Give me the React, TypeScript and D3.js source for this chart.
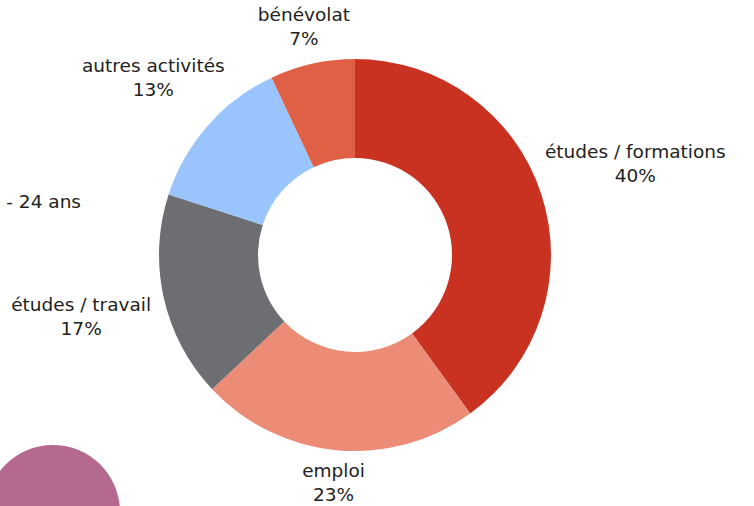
import React from "react";
import * as d3 from "d3";

const categories = ["études / formations", "emploi", "études / travail", "autres activités", "bénévolat"];
const values = [40, 23, 17, 13, 7];
const colors = ["#C93221", "#EC8C77", "#6D6E71", "#99C4FE", "#DF6045"];
const sideTitle = "17 - 24 ans";

const W = 754;
const H = 506;
const FONT = "'DejaVu Sans', sans-serif";
const FS = 18.5;

function measure(text: string): number {
  const c = document.createElement("canvas").getContext("2d");
  if (!c) return text.length * 10;
  c.font = `${FS}px DejaVu Sans`;
  return c.measureText(text).width;
}

export default function App() {
  const cx = 355;
  const cy = 255;
  const R = 196;
  const r = 97;
  const pie = d3.pie<number>().sort(null).value((d) => d);
  const arcs = pie(values);
  const arc = d3.arc<d3.PieArcDatum<number>>().innerRadius(r).outerRadius(R);

  return (
    <svg width={W} height={H} style={{ position: "absolute", left: 0, top: 0 }}>
      <rect width={W} height={H} fill="#fff" />
      <circle cx={53} cy={512} r={67} fill="#B5698F" />
      <text x={81} y={208} textAnchor="end" fontFamily={FONT} fontSize={FS} fill="#222">
        {sideTitle}
      </text>
      <g transform={`translate(${cx},${cy})`}>
        {arcs.map((a, i) => (
          <path key={i} d={arc(a) || ""} fill={colors[i]} />
        ))}
        {arcs.map((a, i) => {
          const mid = (a.startAngle + a.endAngle) / 2;
          const dx = Math.sin(mid);
          const dy = -Math.cos(mid);
          const hw = Math.max(measure(categories[i]), measure(values[i] + "%")) / 2;
          const rr = 226 + hw * Math.abs(dx) * 0.8;
          const x = dx * rr;
          const y = dy * rr;
          return (
            <text key={"t" + i} textAnchor="middle" fontFamily={FONT} fontSize={FS} fill="#222">
              <tspan x={x} y={y - 5.5}>{categories[i]}</tspan>
              <tspan x={x} y={y + 18.5}>{values[i] + "%"}</tspan>
            </text>
          );
        })}
      </g>
    </svg>
  );
}
